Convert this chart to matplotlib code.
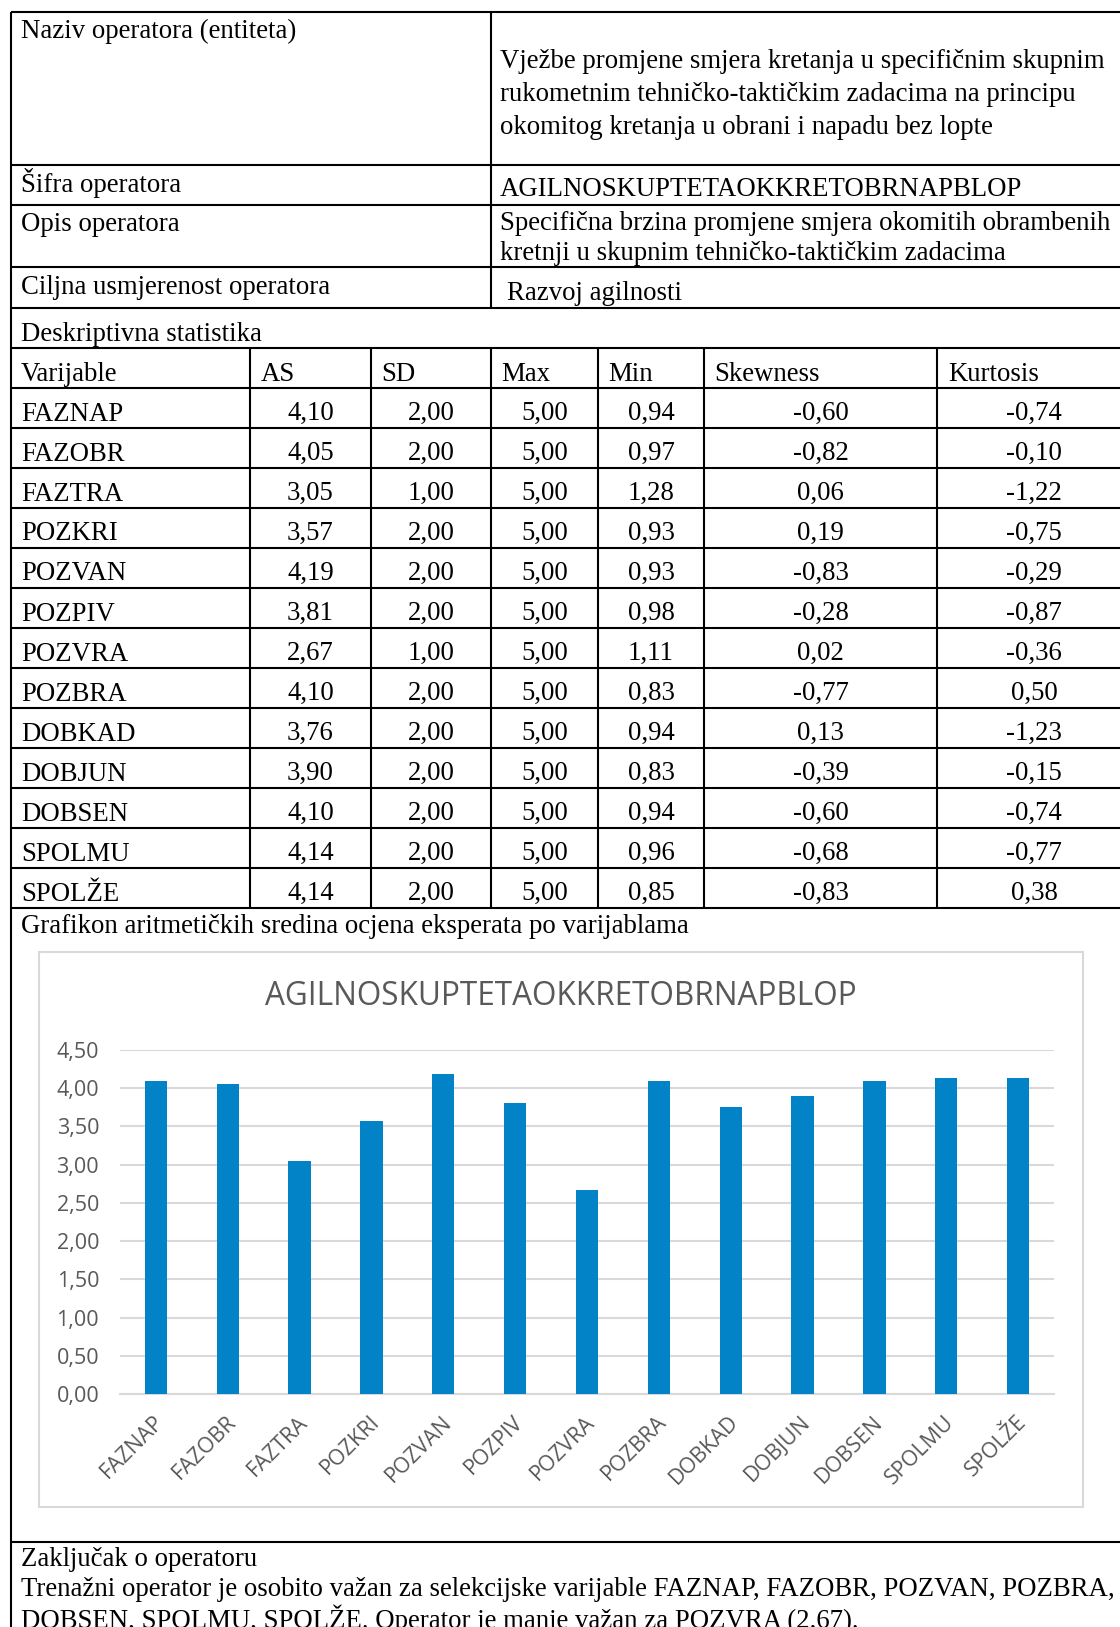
import matplotlib.pyplot as plt
from matplotlib.patches import Rectangle

# podaci iz tablice
variables = ["FAZNAP", "FAZOBR", "FAZTRA", "POZKRI", "POZVAN", "POZPIV", "POZVRA",
             "POZBRA", "DOBKAD", "DOBJUN", "DOBSEN", "SPOLMU", "SPOLŽE"]
as_vals = [4.10, 4.05, 3.05, 3.57, 4.19, 3.81, 2.67, 4.10, 3.76, 3.90, 4.10, 4.14, 4.14]
sd_vals = [2.00, 2.00, 1.00, 2.00, 2.00, 2.00, 1.00, 2.00, 2.00, 2.00, 2.00, 2.00, 2.00]
max_vals = [5.00, 5.00, 5.00, 5.00, 5.00, 5.00, 5.00, 5.00, 5.00, 5.00, 5.00, 5.00, 5.00]
min_vals = [0.94, 0.97, 1.28, 0.93, 0.93, 0.98, 1.11, 0.83, 0.94, 0.83, 0.94, 0.96, 0.85]
skew_vals = [-0.60, -0.82, 0.06, 0.19, -0.83, -0.28, 0.02, -0.77, 0.13, -0.39, -0.60, -0.68, -0.83]
kurt_vals = [-0.74, -0.10, -1.22, -0.75, -0.29, -0.87, -0.36, 0.50, -1.23, -0.15, -0.74, -0.77, 0.38]
y_ticks = [0.0, 0.5, 1.0, 1.5, 2.0, 2.5, 3.0, 3.5, 4.0, 4.5]

header = ["Varijable", "AS", "SD", "Max", "Min", "Skewness", "Kurtosis"]
code = "AGILNOSKUPTETAOKKRETOBRNAPBLOP"
naziv_lines = ["Vježbe promjene smjera kretanja u specifičnim skupnim",
               "rukometnim tehničko-taktičkim zadacima na principu",
               "okomitog kretanja u obrani i napadu bez lopte"]
opis_lines = ["Specifična brzina promjene smjera okomitih obrambenih",
              "kretnji u skupnim tehničko-taktičkim zadacima"]
zakljucak_lines = ["Trenažni operator je osobito važan za selekcijske varijable FAZNAP, FAZOBR, POZVAN, POZBRA,",
                   "DOBSEN, SPOLMU, SPOLŽE. Operator je manje važan za POZVRA (2,67)."]

W, H = 1120, 1627
SERIF = "Liberation Serif"
FS = 19.3
SANS = "Open Sans"


def fmt(v):
    return f"{v:.2f}".replace(".", ",")


fig = plt.figure(figsize=(W / 100, H / 100), dpi=100)
bg = fig.add_axes([0, 0, 1, 1])
bg.set_xlim(0, W)
bg.set_ylim(H, 0)
bg.axis("off")

lw = 1.5


def hline(y, x0=11, x1=W):
    bg.plot([x0, x1], [y, y], color="black", lw=lw, solid_capstyle="butt")


def vline(x, y0, y1):
    bg.plot([x, x], [y0, y1], color="black", lw=lw, solid_capstyle="butt")


def txt(x, y, s, ha="left"):
    bg.text(x, y, s, ha=ha, va="center", fontsize=FS, family=SERIF, color="black")


# okvir tablice
for y in [12, 165, 205, 267, 308, 348, 1542]:
    hline(y)
row_lines = [388 + 40 * i for i in range(14)]
for y in row_lines:
    hline(y)
vline(11, 12, H)
vline(491, 12, 308)
for x in [250, 371, 491, 598, 704, 937]:
    vline(x, 348, 908)

# gornji dio
txt(21, 31, "Naziv operatora (entiteta)")
for i, line in enumerate(naziv_lines):
    txt(500, 61 + 33 * i, line)
txt(21, 183, "Šifra operatora")
txt(500, 189, code)
txt(21, 224, "Opis operatora")
for i, line in enumerate(opis_lines):
    txt(500, 223 + 30 * i, line)
txt(21, 287, "Ciljna usmjerenost operatora")
txt(507, 293, "Razvoj agilnosti")
txt(21, 334, "Deskriptivna statistika")

# zaglavlje i redovi
head_x = [21, 261, 381, 501, 608, 714, 948]
for x, h in zip(head_x, header):
    txt(x, 374, h)

col_centers = [310.5, 431, 544.5, 651, 820.5, 1034]
columns = [as_vals, sd_vals, max_vals, min_vals, skew_vals, kurt_vals]
for i, var in enumerate(variables):
    y = 413 + 40 * i
    txt(21, y + 1, var)
    for cx, col in zip(col_centers, columns):
        txt(cx, y, fmt(col[i]), ha="center")

txt(21, 926, "Grafikon aritmetičkih sredina ocjena eksperata po varijablama")
txt(21, 1560, "Zaključak o operatoru")
for i, line in enumerate(zakljucak_lines):
    txt(21, 1590 + 29 * i, line)

# okvir grafikona
bg.add_patch(Rectangle((39, 952), 1044, 555, fill=False, edgecolor="#D9D9D9", lw=1.5))
bg.text(561, 996, code, ha="center", va="center", fontsize=22.7,
        family=SANS, color="#595959")

# stupčasti grafikon
ax = fig.add_axes([120 / W, 1 - 1394 / H, 934 / W, 344 / H])
x = list(range(len(variables)))
ax.bar(x, as_vals, width=0.31, color="#0283C8", zorder=3)
ax.set_xlim(-0.5, len(variables) - 0.5)
ax.set_ylim(0, 4.5)
ax.set_yticks(y_ticks)
ax.set_yticklabels([fmt(v) for v in y_ticks], fontsize=15.5, family=SANS, color="#595959")
# oznake malo udesno, kao u Excelu
ax.set_xticks([i + 0.07 for i in x])
ax.set_xticklabels(variables, rotation=45, ha="right", va="center", rotation_mode="anchor",
                   fontsize=15.5, family=SANS, color="#595959")
ax.tick_params(axis="both", length=0)
ax.tick_params(axis="y", pad=15)
ax.tick_params(axis="x", pad=18)
ax.grid(axis="y", color="#D9D9D9", lw=1.5, zorder=0)
for s in ["top", "right", "left"]:
    ax.spines[s].set_visible(False)
ax.spines["bottom"].set_color("#D9D9D9")
ax.spines["bottom"].set_linewidth(1.5)
ax.set_facecolor("none")

fig.savefig("out.png", dpi=100)
